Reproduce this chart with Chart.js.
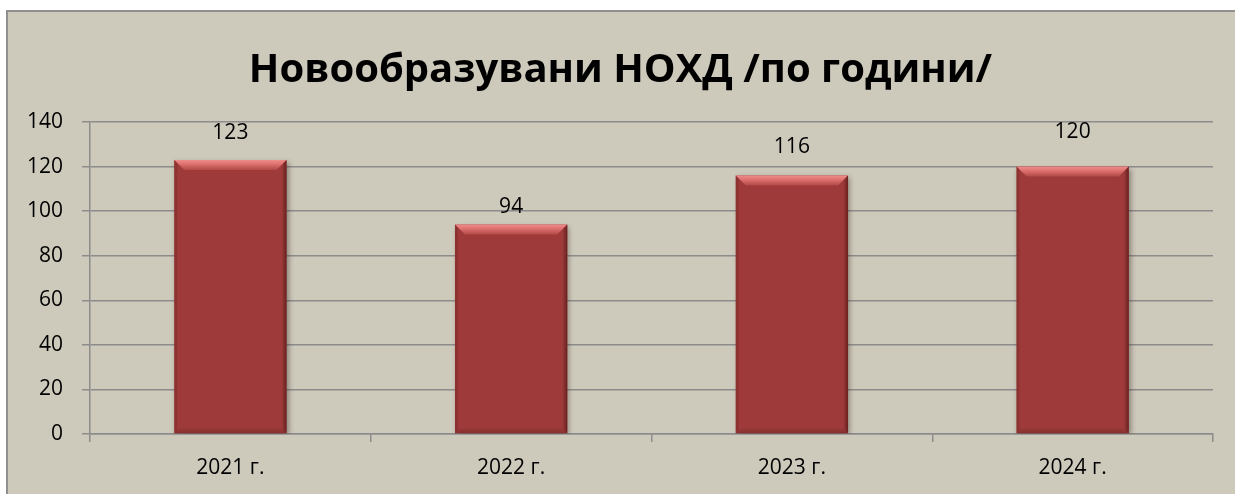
<!DOCTYPE html>
<html>
<head>
<meta charset="utf-8">
<script src="https://cdn.jsdelivr.net/npm/chart.js@4.4.1/dist/chart.umd.min.js"></script>
<style>
    html, body { margin: 0; padding: 0; background: #cdc9bb; overflow: hidden; width: 1235px; height: 494px; }
    #frame { position: absolute; left: 0; top: 0; width: 1235px; height: 10px; background: #ffffff; }
    #frameL { position: absolute; left: 0; top: 0; width: 6px; height: 494px; background: #ffffff; }
    #box {
        position: absolute; left: 6px; top: 10px;
        width: 1227px; height: 482px;
        background: #cdc9bb;
        border-top: 2px solid #8f8f8f;
        border-left: 2px solid #8f8f8f;
    }
    canvas { display: block; }
</style>
</head>
<body>
<div id="frame"></div><div id="frameL"></div>
<div id="box"><canvas id="nohdChart" width="1227" height="482"></canvas></div>
<script>
// Données du graphique
const years = ['2021 г.', '2022 г.', '2023 г.', '2024 г.'];
const nohdCounts = [123, 94, 116, 120];
const yTicks = [0, 20, 40, 60, 80, 100, 120, 140];

const FONT = '"Open Sans", "DejaVu Sans", sans-serif';

// étiquettes au-dessus des barres (décalage en px, comme dans l'original)
const labelLift = [27, 17, 28, 35];

const bevelPlugin = {
    id: 'bevel',
    beforeDatasetsDraw(chart) {
        const ctx = chart.ctx;
        ctx.save();
        ctx.shadowColor = 'rgba(60, 40, 30, 0.45)';
        ctx.shadowBlur = 5;
        ctx.shadowOffsetX = 2;
        ctx.shadowOffsetY = 2;
    },
    afterDatasetsDraw(chart) {
        const ctx = chart.ctx;
        ctx.restore();
        const meta = chart.getDatasetMeta(0);
        meta.data.forEach(bar => {
            const left = bar.x - bar.width / 2;
            const right = bar.x + bar.width / 2;
            const top = bar.y;
            const bottom = bar.base;
            const b = 10;

            // biseau du haut
            const g = ctx.createLinearGradient(0, top, 0, top + b);
            g.addColorStop(0, '#ec8e8c');
            g.addColorStop(0.35, '#e27674');
            g.addColorStop(1, '#b24a48');
            ctx.fillStyle = g;
            ctx.beginPath();
            ctx.moveTo(left, top);
            ctx.lineTo(right, top);
            ctx.lineTo(right - b, top + b);
            ctx.lineTo(left + b, top + b);
            ctx.closePath();
            ctx.fill();

            // bord droit plus sombre
            const gr = ctx.createLinearGradient(right - 5, 0, right, 0);
            gr.addColorStop(0, 'rgba(90, 25, 25, 0)');
            gr.addColorStop(1, 'rgba(90, 25, 25, 0.8)');
            ctx.fillStyle = gr;
            ctx.beginPath();
            ctx.moveTo(right, top);
            ctx.lineTo(right, bottom);
            ctx.lineTo(right - 5, bottom - 5);
            ctx.lineTo(right - 5, top + 5);
            ctx.closePath();
            ctx.fill();

            // bord gauche
            ctx.fillStyle = 'rgba(110, 35, 35, 0.35)';
            ctx.beginPath();
            ctx.moveTo(left, top);
            ctx.lineTo(left + 3, top + 3);
            ctx.lineTo(left + 3, bottom - 3);
            ctx.lineTo(left, bottom);
            ctx.closePath();
            ctx.fill();

            // bas
            const gb = ctx.createLinearGradient(0, bottom - 6, 0, bottom);
            gb.addColorStop(0, 'rgba(110, 35, 35, 0)');
            gb.addColorStop(1, 'rgba(110, 35, 35, 0.5)');
            ctx.fillStyle = gb;
            ctx.beginPath();
            ctx.moveTo(left, bottom);
            ctx.lineTo(right, bottom);
            ctx.lineTo(right - 6, bottom - 6);
            ctx.lineTo(left + 6, bottom - 6);
            ctx.closePath();
            ctx.fill();
        });

        // valeurs
        ctx.save();
        ctx.fillStyle = '#000000';
        ctx.font = '21px ' + FONT;
        ctx.textAlign = 'center';
        ctx.textBaseline = 'middle';
        meta.data.forEach((bar, i) => {
            ctx.fillText(String(nohdCounts[i]), bar.x, bar.y - labelLift[i]);
        });
        ctx.restore();
    }
};

new Chart(document.getElementById('nohdChart').getContext('2d'), {
    type: 'bar',
    data: {
        labels: years,
        datasets: [{
            data: nohdCounts,
            backgroundColor: '#9e3b3a',
            borderWidth: 0,
            categoryPercentage: 1,
            barPercentage: 0.4
        }]
    },
    options: {
        responsive: false,
        animation: false,
        layout: { padding: { left: 20, right: 22, top: 0, bottom: 0 } },
        plugins: {
            legend: { display: false },
            tooltip: { enabled: false },
            title: {
                display: true,
                text: 'Новообразувани НОХД /по години/',
                color: '#000000',
                font: { family: FONT, size: 40, weight: 'bold', lineHeight: 1.2 },
                padding: { top: 35, bottom: 27 }
            }
        },
        scales: {
            x: {
                grid: {
                    offset: true,
                    drawOnChartArea: false,
                    drawTicks: true,
                    tickLength: 8,
                    color: '#8c8c8c',
                    lineWidth: 1.5
                },
                border: { color: '#8c8c8c', width: 1.5 },
                ticks: {
                    color: '#000000',
                    font: { family: FONT, size: 21 },
                    padding: 13
                },
                afterFit(scale) { scale.height = 60; }
            },
            y: {
                min: 0,
                max: 140,
                afterBuildTicks(scale) {
                    scale.ticks = yTicks.map(v => ({ value: v }));
                },
                grid: {
                    color: '#8c8c8c',
                    lineWidth: 1.5,
                    tickLength: 8
                },
                border: { color: '#8c8c8c', width: 1.5 },
                ticks: {
                    color: '#000000',
                    font: { family: FONT, size: 21 },
                    padding: 19
                },
                afterFit(scale) { scale.width = 62; }
            }
        }
    },
    plugins: [bevelPlugin]
});
</script>
</body>
</html>
